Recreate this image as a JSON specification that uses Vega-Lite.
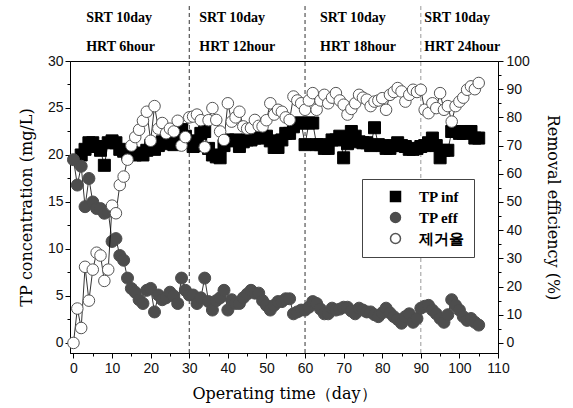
{
  "$schema": "https://vega.github.io/schema/vega-lite/v6.json",
  "width": 428,
  "height": 292,
  "autosize": "none",
  "padding": {"left": 70, "top": 61, "right": 75, "bottom": 55},
  "background": "white",
  "config": {
    "view": {"stroke": "black", "strokeWidth": 1},
    "axis": {"grid": false, "domainColor": "black", "tickColor": "black", "labelColor": "#111", "labelFont": "Liberation Sans", "labelFontSize": 14, "titleFont": "DejaVu Serif", "titleFontSize": 16, "titleFontWeight": "normal", "titleColor": "black", "labelFlush": false, "labelOverlap": false},
    "legend": {"orient": "none", "legendX": 292, "legendY": 118, "padding": 10, "strokeColor": "#444", "fillColor": "white",
               "labelFont": "Liberation Serif", "labelFontSize": 15, "labelFontWeight": "bold", "labelColor": "black",
               "rowPadding": 4, "symbolOffset": 16, "labelOffset": 16, "title": null}
  },
  "datasets": {
    "tp": [
      {"day":2,"series":"TP inf","value":20.0},{"day":3,"series":"TP inf","value":20.6},{"day":4,"series":"TP inf","value":21.3},{"day":5,"series":"TP inf","value":21.3},{"day":6,"series":"TP inf","value":20.9},{"day":7,"series":"TP inf","value":20.5},{"day":8,"series":"TP inf","value":18.9},{"day":9,"series":"TP inf","value":21.3},{"day":10,"series":"TP inf","value":21.5},{"day":11,"series":"TP inf","value":21.3},{"day":12,"series":"TP inf","value":20.6},{"day":13,"series":"TP inf","value":20.4},{"day":14,"series":"TP inf","value":20.1},{"day":15,"series":"TP inf","value":20.3},{"day":16,"series":"TP inf","value":20.0},{"day":17,"series":"TP inf","value":20.2},{"day":18,"series":"TP inf","value":20.0},{"day":19,"series":"TP inf","value":20.5},{"day":20,"series":"TP inf","value":21.0},{"day":21,"series":"TP inf","value":20.6},{"day":22,"series":"TP inf","value":21.0},{"day":23,"series":"TP inf","value":21.4},{"day":24,"series":"TP inf","value":21.8},{"day":25,"series":"TP inf","value":21.2},{"day":26,"series":"TP inf","value":21.1},{"day":27,"series":"TP inf","value":21.6},{"day":28,"series":"TP inf","value":22.7},{"day":29,"series":"TP inf","value":22.0},{"day":30,"series":"TP inf","value":21.5},{"day":31,"series":"TP inf","value":20.9},{"day":32,"series":"TP inf","value":21.0},{"day":33,"series":"TP inf","value":22.3},{"day":34,"series":"TP inf","value":22.5},{"day":35,"series":"TP inf","value":20.7},{"day":36,"series":"TP inf","value":20.0},{"day":37,"series":"TP inf","value":19.8},{"day":38,"series":"TP inf","value":19.7},{"day":39,"series":"TP inf","value":21.0},{"day":40,"series":"TP inf","value":21.6},{"day":41,"series":"TP inf","value":21.5},{"day":42,"series":"TP inf","value":21.6},{"day":43,"series":"TP inf","value":20.9},{"day":44,"series":"TP inf","value":21.4},{"day":45,"series":"TP inf","value":21.6},{"day":46,"series":"TP inf","value":21.6},{"day":47,"series":"TP inf","value":21.8},{"day":48,"series":"TP inf","value":21.8},{"day":49,"series":"TP inf","value":22.0},{"day":50,"series":"TP inf","value":22.0},{"day":51,"series":"TP inf","value":21.5},{"day":52,"series":"TP inf","value":20.8},{"day":53,"series":"TP inf","value":20.8},{"day":54,"series":"TP inf","value":21.6},{"day":55,"series":"TP inf","value":22.3},{"day":56,"series":"TP inf","value":22.3},{"day":57,"series":"TP inf","value":23.0},{"day":58,"series":"TP inf","value":23.4},{"day":59,"series":"TP inf","value":23.4},{"day":60,"series":"TP inf","value":21.1},{"day":61,"series":"TP inf","value":23.4},{"day":62,"series":"TP inf","value":23.4},{"day":63,"series":"TP inf","value":21.1},{"day":64,"series":"TP inf","value":21.1},{"day":65,"series":"TP inf","value":20.7},{"day":66,"series":"TP inf","value":20.7},{"day":67,"series":"TP inf","value":21.6},{"day":68,"series":"TP inf","value":21.6},{"day":69,"series":"TP inf","value":22.0},{"day":70,"series":"TP inf","value":19.7},{"day":71,"series":"TP inf","value":21.2},{"day":72,"series":"TP inf","value":22.5},{"day":73,"series":"TP inf","value":22.0},{"day":74,"series":"TP inf","value":21.4},{"day":75,"series":"TP inf","value":21.3},{"day":76,"series":"TP inf","value":21.3},{"day":77,"series":"TP inf","value":21.0},{"day":78,"series":"TP inf","value":22.9},{"day":79,"series":"TP inf","value":21.1},{"day":80,"series":"TP inf","value":21.0},{"day":81,"series":"TP inf","value":20.7},{"day":82,"series":"TP inf","value":20.7},{"day":83,"series":"TP inf","value":21.0},{"day":84,"series":"TP inf","value":21.3},{"day":85,"series":"TP inf","value":21.0},{"day":86,"series":"TP inf","value":20.9},{"day":87,"series":"TP inf","value":20.6},{"day":88,"series":"TP inf","value":20.6},{"day":89,"series":"TP inf","value":20.7},{"day":90,"series":"TP inf","value":20.9},{"day":91,"series":"TP inf","value":21.0},{"day":92,"series":"TP inf","value":21.3},{"day":93,"series":"TP inf","value":21.8},{"day":94,"series":"TP inf","value":21.0},{"day":95,"series":"TP inf","value":19.7},{"day":96,"series":"TP inf","value":20.5},{"day":97,"series":"TP inf","value":20.5},{"day":98,"series":"TP inf","value":22.5},{"day":99,"series":"TP inf","value":22.5},{"day":100,"series":"TP inf","value":22.3},{"day":101,"series":"TP inf","value":22.3},{"day":102,"series":"TP inf","value":22.5},{"day":103,"series":"TP inf","value":22.5},{"day":104,"series":"TP inf","value":21.8},{"day":105,"series":"TP inf","value":21.8},
      {"day":0,"series":"TP eff","value":19.5},{"day":1,"series":"TP eff","value":16.8},{"day":2,"series":"TP eff","value":18.8},{"day":3,"series":"TP eff","value":14.5},{"day":4,"series":"TP eff","value":17.5},{"day":5,"series":"TP eff","value":15.0},{"day":6,"series":"TP eff","value":14.3},{"day":7,"series":"TP eff","value":14.3},{"day":8,"series":"TP eff","value":13.8},{"day":9,"series":"TP eff","value":14.0},{"day":10,"series":"TP eff","value":10.8},{"day":11,"series":"TP eff","value":11.1},{"day":12,"series":"TP eff","value":9.3},{"day":13,"series":"TP eff","value":8.8},{"day":14,"series":"TP eff","value":6.9},{"day":15,"series":"TP eff","value":5.8},{"day":16,"series":"TP eff","value":5.4},{"day":17,"series":"TP eff","value":4.6},{"day":18,"series":"TP eff","value":4.2},{"day":19,"series":"TP eff","value":5.6},{"day":20,"series":"TP eff","value":5.8},{"day":21,"series":"TP eff","value":3.3},{"day":22,"series":"TP eff","value":5.1},{"day":23,"series":"TP eff","value":4.6},{"day":24,"series":"TP eff","value":4.8},{"day":25,"series":"TP eff","value":5.4},{"day":26,"series":"TP eff","value":5.0},{"day":27,"series":"TP eff","value":4.2},{"day":28,"series":"TP eff","value":6.9},{"day":29,"series":"TP eff","value":5.6},{"day":30,"series":"TP eff","value":5.1},{"day":31,"series":"TP eff","value":5.1},{"day":32,"series":"TP eff","value":4.2},{"day":33,"series":"TP eff","value":4.8},{"day":34,"series":"TP eff","value":6.9},{"day":35,"series":"TP eff","value":4.4},{"day":36,"series":"TP eff","value":3.5},{"day":37,"series":"TP eff","value":4.5},{"day":38,"series":"TP eff","value":4.8},{"day":39,"series":"TP eff","value":5.6},{"day":40,"series":"TP eff","value":3.5},{"day":41,"series":"TP eff","value":4.6},{"day":42,"series":"TP eff","value":4.2},{"day":43,"series":"TP eff","value":4.2},{"day":44,"series":"TP eff","value":4.8},{"day":45,"series":"TP eff","value":5.2},{"day":46,"series":"TP eff","value":5.6},{"day":47,"series":"TP eff","value":5.3},{"day":48,"series":"TP eff","value":5.3},{"day":49,"series":"TP eff","value":4.5},{"day":50,"series":"TP eff","value":4.0},{"day":51,"series":"TP eff","value":3.5},{"day":52,"series":"TP eff","value":4.0},{"day":53,"series":"TP eff","value":4.4},{"day":54,"series":"TP eff","value":4.4},{"day":55,"series":"TP eff","value":4.7},{"day":56,"series":"TP eff","value":4.7},{"day":57,"series":"TP eff","value":3.1},{"day":58,"series":"TP eff","value":3.3},{"day":59,"series":"TP eff","value":3.5},{"day":60,"series":"TP eff","value":3.5},{"day":61,"series":"TP eff","value":3.8},{"day":62,"series":"TP eff","value":4.4},{"day":63,"series":"TP eff","value":4.2},{"day":64,"series":"TP eff","value":3.6},{"day":65,"series":"TP eff","value":3.1},{"day":66,"series":"TP eff","value":3.1},{"day":67,"series":"TP eff","value":3.7},{"day":68,"series":"TP eff","value":3.5},{"day":69,"series":"TP eff","value":3.6},{"day":70,"series":"TP eff","value":3.8},{"day":71,"series":"TP eff","value":3.8},{"day":72,"series":"TP eff","value":3.4},{"day":73,"series":"TP eff","value":3.1},{"day":74,"series":"TP eff","value":3.7},{"day":75,"series":"TP eff","value":3.5},{"day":76,"series":"TP eff","value":3.3},{"day":77,"series":"TP eff","value":3.3},{"day":78,"series":"TP eff","value":3.0},{"day":79,"series":"TP eff","value":2.8},{"day":80,"series":"TP eff","value":3.2},{"day":81,"series":"TP eff","value":3.7},{"day":82,"series":"TP eff","value":3.2},{"day":83,"series":"TP eff","value":2.8},{"day":84,"series":"TP eff","value":2.5},{"day":85,"series":"TP eff","value":2.1},{"day":86,"series":"TP eff","value":2.8},{"day":87,"series":"TP eff","value":3.1},{"day":88,"series":"TP eff","value":2.2},{"day":89,"series":"TP eff","value":2.6},{"day":90,"series":"TP eff","value":3.7},{"day":91,"series":"TP eff","value":3.9},{"day":92,"series":"TP eff","value":4.0},{"day":93,"series":"TP eff","value":3.5},{"day":94,"series":"TP eff","value":3.1},{"day":95,"series":"TP eff","value":2.6},{"day":96,"series":"TP eff","value":2.2},{"day":97,"series":"TP eff","value":3.0},{"day":98,"series":"TP eff","value":4.6},{"day":99,"series":"TP eff","value":4.0},{"day":100,"series":"TP eff","value":3.5},{"day":101,"series":"TP eff","value":2.8},{"day":102,"series":"TP eff","value":2.4},{"day":103,"series":"TP eff","value":2.6},{"day":104,"series":"TP eff","value":2.2},{"day":105,"series":"TP eff","value":1.9}
    ],
    "rem": [
      {"day":0,"series":"제거율","value":0},{"day":1,"series":"제거율","value":12.2},{"day":2,"series":"제거율","value":5.3},{"day":3,"series":"제거율","value":27},{"day":4,"series":"제거율","value":15},{"day":5,"series":"제거율","value":26},{"day":6,"series":"제거율","value":32},{"day":7,"series":"제거율","value":31},{"day":8,"series":"제거율","value":22},{"day":9,"series":"제거율","value":26},{"day":10,"series":"제거율","value":48.7},{"day":11,"series":"제거율","value":46},{"day":12,"series":"제거율","value":56},{"day":13,"series":"제거율","value":59},{"day":14,"series":"제거율","value":65},{"day":15,"series":"제거율","value":70},{"day":16,"series":"제거율","value":73},{"day":17,"series":"제거율","value":75.6},{"day":18,"series":"제거율","value":78.8},{"day":19,"series":"제거율","value":82},{"day":20,"series":"제거율","value":71.7},{"day":21,"series":"제거율","value":84},{"day":22,"series":"제거율","value":76},{"day":23,"series":"제거율","value":78},{"day":24,"series":"제거율","value":74.4},{"day":25,"series":"제거율","value":76},{"day":26,"series":"제거율","value":75},{"day":27,"series":"제거율","value":78.8},{"day":28,"series":"제거율","value":70},{"day":29,"series":"제거율","value":73},{"day":30,"series":"제거율","value":80},{"day":31,"series":"제거율","value":80.3},{"day":32,"series":"제거율","value":81},{"day":33,"series":"제거율","value":79},{"day":34,"series":"제거율","value":69.4},{"day":35,"series":"제거율","value":79},{"day":36,"series":"제거율","value":83.3},{"day":37,"series":"제거율","value":79.1},{"day":38,"series":"제거율","value":75},{"day":39,"series":"제거율","value":72},{"day":40,"series":"제거율","value":85},{"day":41,"series":"제거율","value":78.5},{"day":42,"series":"제거율","value":80},{"day":43,"series":"제거율","value":82},{"day":44,"series":"제거율","value":76.8},{"day":45,"series":"제거율","value":76},{"day":46,"series":"제거율","value":76.2},{"day":47,"series":"제거율","value":79.1},{"day":48,"series":"제거율","value":77},{"day":49,"series":"제거율","value":76.8},{"day":50,"series":"제거율","value":79},{"day":51,"series":"제거율","value":85},{"day":52,"series":"제거율","value":81},{"day":53,"series":"제거율","value":82.7},{"day":54,"series":"제거율","value":82},{"day":55,"series":"제거율","value":80},{"day":56,"series":"제거율","value":79.1},{"day":57,"series":"제거율","value":87.4},{"day":58,"series":"제거율","value":86},{"day":59,"series":"제거율","value":85},{"day":60,"series":"제거율","value":82.7},{"day":61,"series":"제거율","value":86},{"day":62,"series":"제거율","value":88.6},{"day":63,"series":"제거율","value":82.7},{"day":64,"series":"제거율","value":86},{"day":65,"series":"제거율","value":88},{"day":66,"series":"제거율","value":85},{"day":67,"series":"제거율","value":87},{"day":68,"series":"제거율","value":88.6},{"day":69,"series":"제거율","value":86},{"day":70,"series":"제거율","value":84.5},{"day":71,"series":"제거율","value":81},{"day":72,"series":"제거율","value":83},{"day":73,"series":"제거율","value":85},{"day":74,"series":"제거율","value":88},{"day":75,"series":"제거율","value":87},{"day":76,"series":"제거율","value":86.3},{"day":77,"series":"제거율","value":84},{"day":78,"series":"제거율","value":85.6},{"day":79,"series":"제거율","value":86},{"day":80,"series":"제거율","value":86.8},{"day":81,"series":"제거율","value":82.7},{"day":82,"series":"제거율","value":88},{"day":83,"series":"제거율","value":89},{"day":84,"series":"제거율","value":90.4},{"day":85,"series":"제거율","value":89.2},{"day":86,"series":"제거율","value":85.6},{"day":87,"series":"제거율","value":88},{"day":88,"series":"제거율","value":89.8},{"day":89,"series":"제거율","value":89},{"day":90,"series":"제거율","value":89.8},{"day":91,"series":"제거율","value":82.7},{"day":92,"series":"제거율","value":81.5},{"day":93,"series":"제거율","value":85},{"day":94,"series":"제거율","value":83.3},{"day":95,"series":"제거율","value":88.6},{"day":96,"series":"제거율","value":82.7},{"day":97,"series":"제거율","value":84},{"day":98,"series":"제거율","value":78.5},{"day":99,"series":"제거율","value":84},{"day":100,"series":"제거율","value":85.6},{"day":101,"series":"제거율","value":87},{"day":102,"series":"제거율","value":89.8},{"day":103,"series":"제거율","value":91},{"day":104,"series":"제거율","value":90},{"day":105,"series":"제거율","value":92.2}
    ],
    "phases": [
      {"start":30},
      {"start":60},
      {"start":90}
    ],
    "labels": [
      {"day":3.3,"label":"SRT 10day\nHRT 6hour"},
      {"day":32.6,"label":"SRT 10day\nHRT 12hour"},
      {"day":63.9,"label":"SRT 10day\nHRT 18hour"},
      {"day":90.9,"label":"SRT 10day\nHRT 24hour"}
    ]
  },
  "layer": [
    {
      "data": {"name": "phases"},
      "mark": {"type": "rule", "strokeDash": [4, 3], "strokeWidth": 1, "clip": false},
      "encoding": {
        "x": {"field": "start", "type": "quantitative", "scale": {"domain": [-0.9, 110], "nice": false, "zero": false},
              "axis": {"values": [5,15,25,35,45,55,65,75,85,95,105], "labels": false, "domain": false, "tickSize": 3, "title": null, "orient": "bottom"}},
        "y": {"datum": -1.07, "type": "quantitative", "scale": {"domain": [-1.07, 30], "nice": false, "zero": false}, "axis": null},
        "y2": {"datum": 35.85},
        "color": {"condition": {"test": "datum.start === 90", "value": "#9a9a9a"}, "value": "#333333"}
      }
    },
    {
      "data": {"name": "tp"},
      "mark": {"type": "line", "strokeWidth": 0.8, "color": "black"},
      "encoding": {
        "x": {"field": "day", "type": "quantitative", "scale": {"domain": [-0.9, 110], "nice": false, "zero": false},
              "axis": {"values": [0,10,20,30,40,50,60,70,80,90,100,110], "tickSize": 5, "labelPadding": 3, "title": "Operating time（day）", "titlePadding": 10, "orient": "bottom"}},
        "y": {"field": "value", "type": "quantitative", "scale": {"domain": [-1.07, 30], "nice": false, "zero": false},
              "axis": {"values": [0,5,10,15,20,25,30], "tickSize": 5, "labelPadding": 2, "title": "TP concentration (mg/L)", "titlePadding": 13, "orient": "left"}},
        "detail": {"field": "series"}
      }
    },
    {
      "data": {"name": "tp"},
      "mark": {"type": "point", "filled": true, "strokeWidth": 1, "opacity": 1},
      "encoding": {
        "x": {"field": "day", "type": "quantitative", "scale": {"domain": [-0.9, 110], "nice": false, "zero": false}, "axis": null},
        "y": {"field": "value", "type": "quantitative", "scale": {"domain": [-1.07, 30], "nice": false, "zero": false},
              "axis": {"values": [2.5,7.5,12.5,17.5,22.5,27.5], "labels": false, "domain": false, "tickSize": 3, "title": null, "orient": "left"}},
        "shape": {"field": "series", "type": "nominal", "scale": {"domain": ["TP inf","TP eff","제거율"], "range": ["square","circle","circle"]}},
        "stroke": {"field": "series", "type": "nominal", "scale": {"domain": ["TP inf","TP eff","제거율"], "range": ["#000000","#4d4d4d","#555555"]}},
        "fill": {"field": "series", "type": "nominal", "scale": {"domain": ["TP inf","TP eff","제거율"], "range": ["#000000","#4d4d4d","#ffffff"]}},
        "size": {"value": 144}
      }
    },
    {
      "data": {"name": "rem"},
      "mark": {"type": "line", "strokeWidth": 0.8, "color": "black"},
      "encoding": {
        "x": {"field": "day", "type": "quantitative", "scale": {"domain": [-0.9, 110], "nice": false, "zero": false}, "axis": null},
        "y": {"field": "value", "type": "quantitative", "scale": {"domain": [-3.57, 100], "nice": false, "zero": false},
              "axis": {"values": [0,10,20,30,40,50,60,70,80,90,100], "tickSize": 5, "labelPadding": 3, "title": "Removal efficiency (%)", "titlePadding": 15, "orient": "right"}}
      }
    },
    {
      "data": {"name": "rem"},
      "mark": {"type": "point", "filled": true, "strokeWidth": 1, "opacity": 1},
      "encoding": {
        "x": {"field": "day", "type": "quantitative", "scale": {"domain": [-0.9, 110], "nice": false, "zero": false}, "axis": null},
        "y": {"field": "value", "type": "quantitative", "scale": {"domain": [-3.57, 100], "nice": false, "zero": false},
              "axis": {"values": [5,15,25,35,45,55,65,75,85,95], "labels": false, "domain": false, "tickSize": 3, "title": null, "orient": "right"}},
        "shape": {"field": "series", "type": "nominal"},
        "stroke": {"field": "series", "type": "nominal"},
        "fill": {"field": "series", "type": "nominal"},
        "size": {"value": 133}
      }
    },
    {
      "data": {"name": "labels"},
      "mark": {"type": "text", "align": "left", "baseline": "alphabetic", "lineBreak": "\n", "lineHeight": 29, "font": "Liberation Serif", "fontSize": 14, "fontWeight": "bold", "color": "black", "clip": false},
      "encoding": {
        "x": {"field": "day", "type": "quantitative", "scale": {"domain": [-0.9, 110], "nice": false, "zero": false}, "axis": null},
        "y": {"datum": 34.15, "type": "quantitative", "scale": {"domain": [-1.07, 30], "nice": false, "zero": false}, "axis": null},
        "text": {"field": "label"}
      }
    }
  ],
  "resolve": {"scale": {"y": "independent"}, "axis": {"y": "independent", "x": "independent"}}
}
